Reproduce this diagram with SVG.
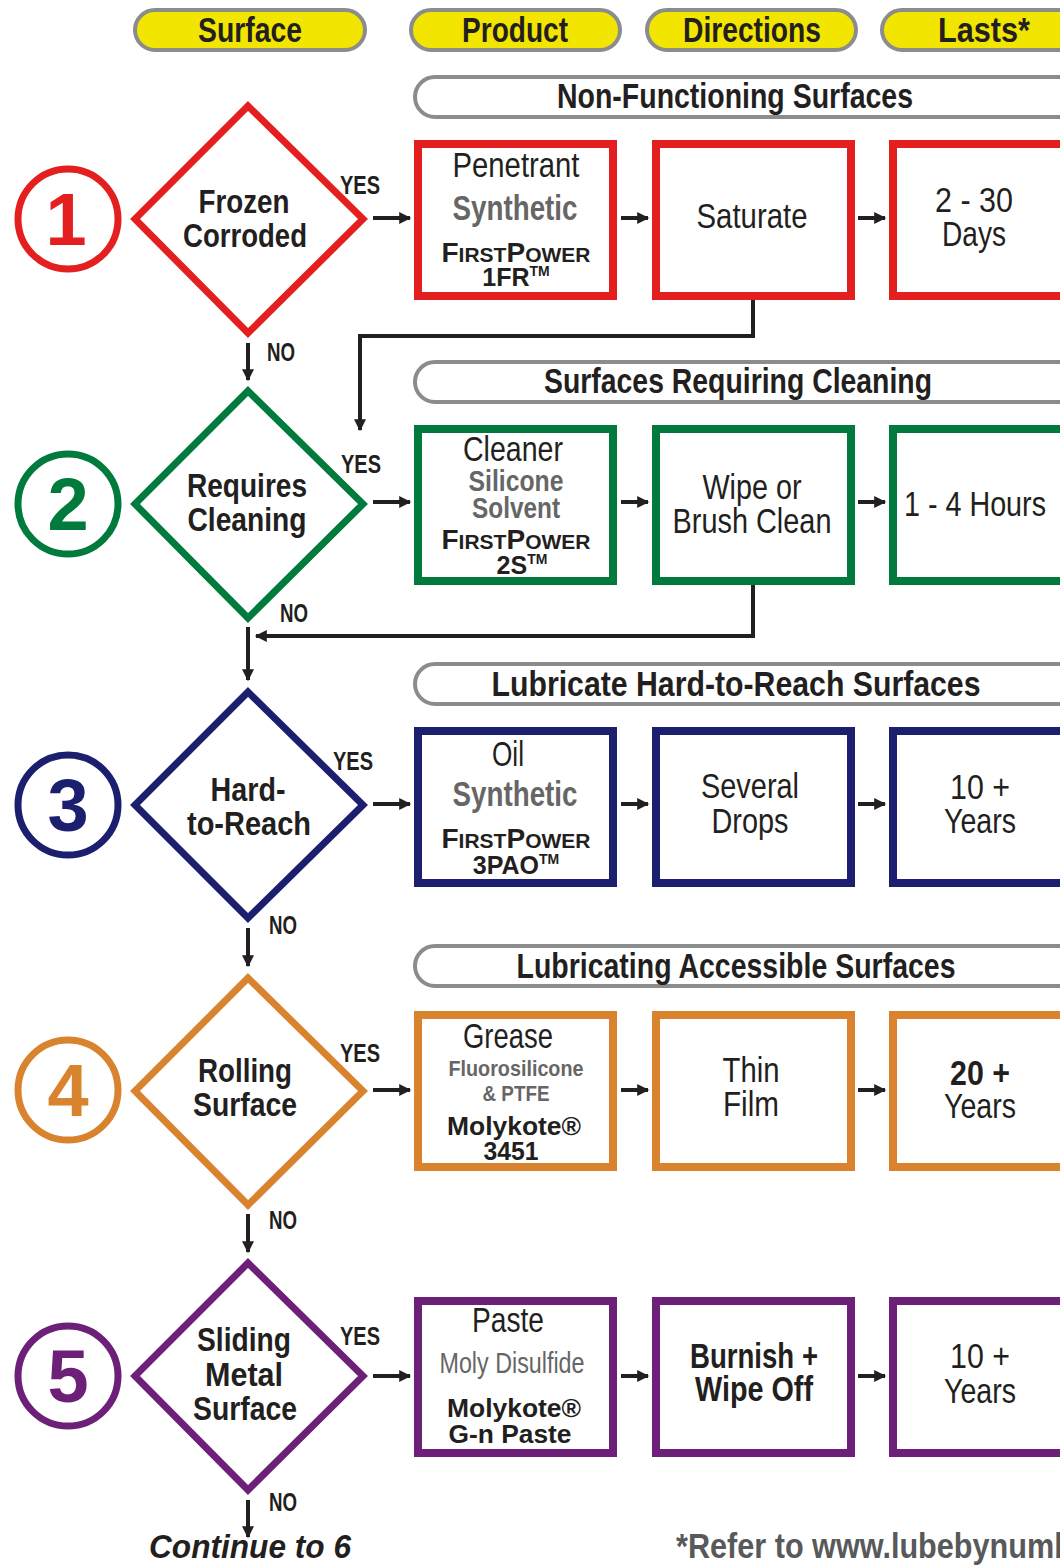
<svg xmlns="http://www.w3.org/2000/svg" width="1060" height="1565" viewBox="0 0 1060 1565">
<style>
text{font-family:"Liberation Sans",Arial,sans-serif;text-anchor:middle;fill:#231f20;stroke:none}
.hd{font-size:35px;font-weight:bold}
.sec{font-size:35px;font-weight:bold}
.dm{font-size:34px;font-weight:bold}
.bx{font-size:35px}
.gr{fill:#666666;font-weight:bold}
.fp{font-weight:bold;font-size:28px}
.fs{font-size:21px}
.mk{font-weight:bold;font-size:26px}
.yn{font-size:25px;font-weight:bold;text-anchor:start}
.num{font-size:74px;font-weight:bold}
.pill{fill:#f2e500;stroke:#8a8c8e;stroke-width:4}
.spill{fill:#fff;stroke:#8a8c8e;stroke-width:4}
.line{fill:none;stroke:#231f20;stroke-width:4}
.box{fill:#fff;stroke-width:8}
.dia{fill:#fff;stroke-width:7}
.circ{fill:#fff;stroke-width:7}
</style>
<defs>
<marker id="ah" viewBox="0 0 10 10" refX="9" refY="5" markerUnits="userSpaceOnUse" markerWidth="14" markerHeight="12" orient="auto"><path d="M0,0 L10,5 L0,10 z" fill="#231f20"/></marker>
</defs>
<rect width="1060" height="1565" fill="#fff"/>

<g id="headers">
<rect class="pill" x="135" y="10" width="230" height="40" rx="20"/>
<text class="hd" x="250" y="42" textLength="104" lengthAdjust="spacingAndGlyphs">Surface</text>
<rect class="pill" x="411" y="10" width="209" height="40" rx="20"/>
<text class="hd" x="515" y="42" textLength="106" lengthAdjust="spacingAndGlyphs">Product</text>
<rect class="pill" x="647" y="10" width="209" height="40" rx="20"/>
<text class="hd" x="752" y="42" textLength="138" lengthAdjust="spacingAndGlyphs">Directions</text>
<rect class="pill" x="882" y="10" width="209" height="40" rx="20"/>
<text class="hd" x="984" y="42" textLength="92" lengthAdjust="spacingAndGlyphs">Lasts*</text>
</g>

<g id="sections">
<rect class="spill" x="415" y="77" width="680" height="40" rx="20"/>
<text class="sec" x="735" y="108" textLength="356" lengthAdjust="spacingAndGlyphs">Non-Functioning Surfaces</text>
<rect class="spill" x="415" y="362" width="680" height="40" rx="20"/>
<text class="sec" x="738" y="393" textLength="388" lengthAdjust="spacingAndGlyphs">Surfaces Requiring Cleaning</text>
<rect class="spill" x="415" y="664" width="680" height="40" rx="20"/>
<text class="sec" x="736" y="696" textLength="489" lengthAdjust="spacingAndGlyphs">Lubricate Hard-to-Reach Surfaces</text>
<rect class="spill" x="415" y="946" width="680" height="40" rx="20"/>
<text class="sec" x="736" y="978" textLength="439" lengthAdjust="spacingAndGlyphs">Lubricating Accessible Surfaces</text>
</g>

<!-- Row 1 -->
<g id="n1" stroke="#e3201f">
<circle class="circ" cx="68" cy="219" r="50"/>
<text class="num" x="66" y="245" style="fill:#e3201f">1</text>
</g>
<g id="d1" stroke="#e3201f">
<polygon class="dia" points="248,106 363,219 248,333 135,219"/>
<text class="dm" x="244" y="213" textLength="91" lengthAdjust="spacingAndGlyphs">Frozen</text>
<text class="dm" x="245" y="247" textLength="124" lengthAdjust="spacingAndGlyphs">Corroded</text>
</g>
<g id="p1" stroke="#e3201f">
<rect class="box" x="418" y="144" width="195" height="152"/>
<text class="bx" x="516" y="177" textLength="127" lengthAdjust="spacingAndGlyphs">Penetrant</text>
<text class="bx gr" x="515" y="220" textLength="125" lengthAdjust="spacingAndGlyphs">Synthetic</text>
<text class="fp" x="516" y="262" textLength="149" lengthAdjust="spacingAndGlyphs">F<tspan class="fs">IRST</tspan>P<tspan class="fs">OWER</tspan></text>
<text class="fp" x="516" y="286" style="font-size:25px">1FR<tspan font-size="14" dy="-10">TM</tspan></text>
</g>
<g id="r1" stroke="#e3201f">
<rect class="box" x="656" y="144" width="195" height="152"/>
<text class="bx" x="752" y="228" textLength="111" lengthAdjust="spacingAndGlyphs">Saturate</text>
</g>
<g id="l1" stroke="#e3201f">
<rect class="box" x="893" y="144" width="195" height="152"/>
<text class="bx" x="974" y="212" textLength="78" lengthAdjust="spacingAndGlyphs">2 - 30</text>
<text class="bx" x="974" y="246" textLength="64" lengthAdjust="spacingAndGlyphs">Days</text>
</g>

<!-- Row 2 -->
<g id="n2" stroke="#007a3d">
<circle class="circ" cx="68" cy="504" r="50"/>
<text class="num" x="68" y="530" style="fill:#007a3d">2</text>
</g>
<g id="d2" stroke="#007a3d">
<polygon class="dia" points="248,391 363,504 248,618 135,504"/>
<text class="dm" x="247" y="497" textLength="120" lengthAdjust="spacingAndGlyphs">Requires</text>
<text class="dm" x="247" y="531" textLength="119" lengthAdjust="spacingAndGlyphs">Cleaning</text>
</g>
<g id="p2" stroke="#007a3d">
<rect class="box" x="418" y="429" width="195" height="152"/>
<text class="bx" x="513" y="461" textLength="100" lengthAdjust="spacingAndGlyphs">Cleaner</text>
<text class="bx gr" x="516" y="491" style="font-size:29px" textLength="95" lengthAdjust="spacingAndGlyphs">Silicone</text>
<text class="bx gr" x="516" y="518" style="font-size:29px" textLength="88" lengthAdjust="spacingAndGlyphs">Solvent</text>
<text class="fp" x="516" y="549" textLength="149" lengthAdjust="spacingAndGlyphs">F<tspan class="fs">IRST</tspan>P<tspan class="fs">OWER</tspan></text>
<text class="fp" x="522" y="574" style="font-size:25px">2S<tspan font-size="14" dy="-10">TM</tspan></text>
</g>
<g id="r2" stroke="#007a3d">
<rect class="box" x="656" y="429" width="195" height="152"/>
<text class="bx" x="752" y="499" textLength="99" lengthAdjust="spacingAndGlyphs">Wipe or</text>
<text class="bx" x="752" y="533" textLength="159" lengthAdjust="spacingAndGlyphs">Brush Clean</text>
</g>
<g id="l2" stroke="#007a3d">
<rect class="box" x="893" y="429" width="195" height="152"/>
<text class="bx" x="975" y="516" textLength="142" lengthAdjust="spacingAndGlyphs">1 - 4 Hours</text>
</g>

<!-- Row 3 -->
<g id="n3" stroke="#1b1f6e">
<circle class="circ" cx="68" cy="805" r="50"/>
<text class="num" x="68" y="831" style="fill:#1b1f6e">3</text>
</g>
<g id="d3" stroke="#1b1f6e">
<polygon class="dia" points="248,692 363,805 248,918 135,805"/>
<text class="dm" x="248" y="801" textLength="75" lengthAdjust="spacingAndGlyphs">Hard-</text>
<text class="dm" x="249" y="835" textLength="124" lengthAdjust="spacingAndGlyphs">to-Reach</text>
</g>
<g id="p3" stroke="#1b1f6e">
<rect class="box" x="418" y="731" width="195" height="152"/>
<text class="bx" x="508" y="766" textLength="32" lengthAdjust="spacingAndGlyphs">Oil</text>
<text class="bx gr" x="515" y="806" textLength="125" lengthAdjust="spacingAndGlyphs">Synthetic</text>
<text class="fp" x="516" y="848" textLength="149" lengthAdjust="spacingAndGlyphs">F<tspan class="fs">IRST</tspan>P<tspan class="fs">OWER</tspan></text>
<text class="fp" x="516" y="874" style="font-size:25px">3PAO<tspan font-size="14" dy="-10">TM</tspan></text>
</g>
<g id="r3" stroke="#1b1f6e">
<rect class="box" x="656" y="731" width="195" height="152"/>
<text class="bx" x="750" y="798" textLength="98" lengthAdjust="spacingAndGlyphs">Several</text>
<text class="bx" x="750" y="833" textLength="77" lengthAdjust="spacingAndGlyphs">Drops</text>
</g>
<g id="l3" stroke="#1b1f6e">
<rect class="box" x="893" y="731" width="195" height="152"/>
<text class="bx" x="980" y="799" textLength="60" lengthAdjust="spacingAndGlyphs">10 +</text>
<text class="bx" x="980" y="833" textLength="72" lengthAdjust="spacingAndGlyphs">Years</text>
</g>

<!-- Row 4 -->
<g id="n4" stroke="#d9832e">
<circle class="circ" cx="68" cy="1090" r="50"/>
<text class="num" x="68" y="1116" style="fill:#d9832e">4</text>
</g>
<g id="d4" stroke="#d9832e">
<polygon class="dia" points="248,978 363,1091 248,1205 135,1091"/>
<text class="dm" x="245" y="1082" textLength="94" lengthAdjust="spacingAndGlyphs">Rolling</text>
<text class="dm" x="245" y="1116" textLength="104" lengthAdjust="spacingAndGlyphs">Surface</text>
</g>
<g id="p4" stroke="#d9832e">
<rect class="box" x="418" y="1015" width="195" height="152"/>
<text class="bx" x="508" y="1048" textLength="90" lengthAdjust="spacingAndGlyphs">Grease</text>
<text class="gr" x="516" y="1076" style="font-size:22px" textLength="135" lengthAdjust="spacingAndGlyphs">Fluorosilicone</text>
<text class="gr" x="516" y="1101" style="font-size:22px" textLength="67" lengthAdjust="spacingAndGlyphs">&amp; PTFE</text>
<text class="mk" x="514" y="1135" textLength="134" lengthAdjust="spacingAndGlyphs">Molykote®</text>
<text class="mk" x="511" y="1160" textLength="55" lengthAdjust="spacingAndGlyphs">3451</text>
</g>
<g id="r4" stroke="#d9832e">
<rect class="box" x="656" y="1015" width="195" height="152"/>
<text class="bx" x="751" y="1082" textLength="57" lengthAdjust="spacingAndGlyphs">Thin</text>
<text class="bx" x="751" y="1116" textLength="56" lengthAdjust="spacingAndGlyphs">Film</text>
</g>
<g id="l4" stroke="#d9832e">
<rect class="box" x="893" y="1015" width="195" height="152"/>
<text class="bx" x="980" y="1085" font-weight="bold" textLength="60" lengthAdjust="spacingAndGlyphs">20 +</text>
<text class="bx" x="980" y="1118" textLength="72" lengthAdjust="spacingAndGlyphs">Years</text>
</g>

<!-- Row 5 -->
<g id="n5" stroke="#6d2077">
<circle class="circ" cx="68" cy="1376" r="50"/>
<text class="num" x="68" y="1402" style="fill:#6d2077">5</text>
</g>
<g id="d5" stroke="#6d2077">
<polygon class="dia" points="248,1263 363,1376 248,1490 135,1376"/>
<text class="dm" x="244" y="1351" textLength="94" lengthAdjust="spacingAndGlyphs">Sliding</text>
<text class="dm" x="244" y="1386" textLength="78" lengthAdjust="spacingAndGlyphs">Metal</text>
<text class="dm" x="245" y="1420" textLength="104" lengthAdjust="spacingAndGlyphs">Surface</text>
</g>
<g id="p5" stroke="#6d2077">
<rect class="box" x="418" y="1301" width="195" height="152"/>
<text class="bx" x="508" y="1332" textLength="72" lengthAdjust="spacingAndGlyphs">Paste</text>
<text x="512" y="1373" style="font-size:29px;fill:#666666" textLength="145" lengthAdjust="spacingAndGlyphs">Moly Disulfide</text>
<text class="mk" x="514" y="1417" textLength="134" lengthAdjust="spacingAndGlyphs">Molykote®</text>
<text class="mk" x="510" y="1443" textLength="123" lengthAdjust="spacingAndGlyphs">G-n Paste</text>
</g>
<g id="r5" stroke="#6d2077">
<rect class="box" x="656" y="1301" width="195" height="152"/>
<text class="bx" x="754" y="1368" font-weight="bold" textLength="128" lengthAdjust="spacingAndGlyphs">Burnish +</text>
<text class="bx" x="754" y="1401" font-weight="bold" textLength="118" lengthAdjust="spacingAndGlyphs">Wipe Off</text>
</g>
<g id="l5" stroke="#6d2077">
<rect class="box" x="893" y="1301" width="195" height="152"/>
<text class="bx" x="980" y="1368" textLength="60" lengthAdjust="spacingAndGlyphs">10 +</text>
<text class="bx" x="980" y="1403" textLength="72" lengthAdjust="spacingAndGlyphs">Years</text>
</g>

<g id="connectors">
<line class="line" x1="373" y1="218" x2="410" y2="218" marker-end="url(#ah)"/>
<line class="line" x1="373" y1="502" x2="410" y2="502" marker-end="url(#ah)"/>
<line class="line" x1="373" y1="804" x2="410" y2="804" marker-end="url(#ah)"/>
<line class="line" x1="373" y1="1090" x2="410" y2="1090" marker-end="url(#ah)"/>
<line class="line" x1="373" y1="1376" x2="410" y2="1376" marker-end="url(#ah)"/>
<line class="line" x1="621" y1="218" x2="648" y2="218" marker-end="url(#ah)"/>
<line class="line" x1="858" y1="218" x2="885" y2="218" marker-end="url(#ah)"/>
<line class="line" x1="621" y1="502" x2="648" y2="502" marker-end="url(#ah)"/>
<line class="line" x1="858" y1="502" x2="885" y2="502" marker-end="url(#ah)"/>
<line class="line" x1="621" y1="804" x2="648" y2="804" marker-end="url(#ah)"/>
<line class="line" x1="858" y1="804" x2="885" y2="804" marker-end="url(#ah)"/>
<line class="line" x1="621" y1="1090" x2="648" y2="1090" marker-end="url(#ah)"/>
<line class="line" x1="858" y1="1090" x2="885" y2="1090" marker-end="url(#ah)"/>
<line class="line" x1="621" y1="1376" x2="648" y2="1376" marker-end="url(#ah)"/>
<line class="line" x1="858" y1="1376" x2="885" y2="1376" marker-end="url(#ah)"/>
<polyline class="line" points="753,300 753,336 360,336 360,430" marker-end="url(#ah)"/>
<polyline class="line" points="753,585 753,636 256,636" marker-end="url(#ah)"/>
<line class="line" x1="248" y1="343" x2="248" y2="380" marker-end="url(#ah)"/>
<line class="line" x1="248" y1="627" x2="248" y2="680" marker-end="url(#ah)"/>
<line class="line" x1="248" y1="928" x2="248" y2="966" marker-end="url(#ah)"/>
<line class="line" x1="248" y1="1214" x2="248" y2="1252" marker-end="url(#ah)"/>
<line class="line" x1="248" y1="1500" x2="248" y2="1537" marker-end="url(#ah)"/>
</g>

<g id="labels">
<text class="yn" x="340" y="194" textLength="40" lengthAdjust="spacingAndGlyphs">YES</text>
<text class="yn" x="341" y="473" textLength="40" lengthAdjust="spacingAndGlyphs">YES</text>
<text class="yn" x="333" y="770" textLength="40" lengthAdjust="spacingAndGlyphs">YES</text>
<text class="yn" x="340" y="1062" textLength="40" lengthAdjust="spacingAndGlyphs">YES</text>
<text class="yn" x="340" y="1345" textLength="40" lengthAdjust="spacingAndGlyphs">YES</text>
<text class="yn" x="267" y="361" textLength="28" lengthAdjust="spacingAndGlyphs">NO</text>
<text class="yn" x="280" y="622" textLength="28" lengthAdjust="spacingAndGlyphs">NO</text>
<text class="yn" x="269" y="934" textLength="28" lengthAdjust="spacingAndGlyphs">NO</text>
<text class="yn" x="269" y="1229" textLength="28" lengthAdjust="spacingAndGlyphs">NO</text>
<text class="yn" x="269" y="1511" textLength="28" lengthAdjust="spacingAndGlyphs">NO</text>
<text x="250" y="1558" style="font-size:33px;font-weight:bold;font-style:italic" textLength="202" lengthAdjust="spacingAndGlyphs">Continue to 6</text>
<text transform="translate(676,1558) scale(0.875,1)" x="0" y="0" style="font-size:35px;font-weight:bold;text-anchor:start;fill:#58595b">*Refer to www.lubebynumbers.com</text>
</g>
</svg>
